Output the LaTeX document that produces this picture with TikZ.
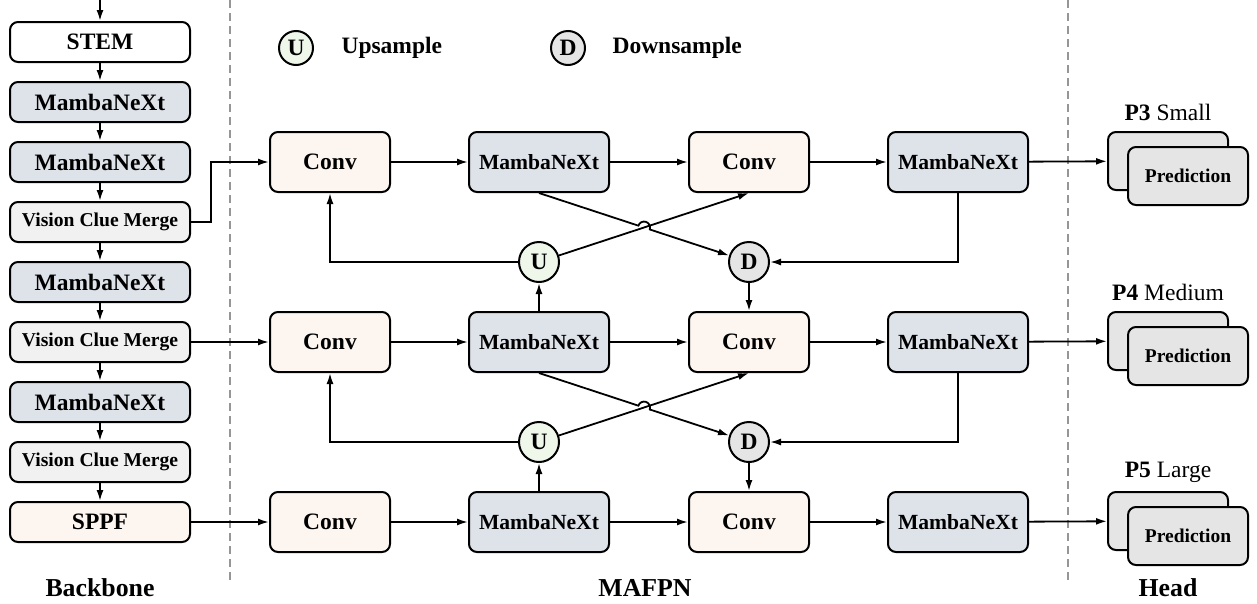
\documentclass[tikz,border=0pt]{standalone}
\usepackage{fontspec}
\setmainfont{Liberation Serif}
\usetikzlibrary{arrows.meta, calc}

\definecolor{mambafill}{RGB}{222,226,233}
\definecolor{convfill}{RGB}{253,245,239}
\definecolor{vcmfill}{RGB}{241,241,241}
\definecolor{predfill}{RGB}{229,229,229}
\definecolor{upfill}{RGB}{239,247,235}
\definecolor{downfill}{RGB}{229,229,229}
\definecolor{sepgray}{RGB}{150,150,150}

\begin{document}
\begin{tikzpicture}[x=1pt, y=-1pt,
  blk/.style={draw, rounded corners=8pt, line width=2pt, inner sep=0pt, font=\bfseries\fontsize{23.5}{28}\selectfont},
  bbone/.style={blk, minimum width=180pt, minimum height=40pt},
  vcm/.style={bbone, fill=vcmfill, font=\bfseries\fontsize{19.6}{23}\selectfont},
  conv/.style={blk, fill=convfill, minimum width=120pt, minimum height=60pt},
  mamba/.style={blk, fill=mambafill, minimum width=140pt, minimum height=60pt, font=\bfseries\fontsize{21.6}{26}\selectfont},
  pred/.style={blk, fill=predfill, minimum width=120pt, minimum height=58pt, font=\bfseries\fontsize{19.5}{23}\selectfont},
  samp/.style={circle, draw, line width=2pt, inner sep=0pt, minimum size=40pt, font=\bfseries\fontsize{23.5}{28}\selectfont},
  arr/.style={-{Latex[length=11pt, width=7pt]}, line width=1.8pt},
  sep/.style={draw=sepgray, line width=1.4pt, dash pattern=on 8pt off 5pt},
  lbl/.style={font=\fontsize{23.5}{28}\selectfont},
  title/.style={font=\bfseries\fontsize{25.8}{30}\selectfont}]
\useasboundingbox (0,0) rectangle (1257,603);

% Backbone
\coordinate (in) at (100,0);
\node[bbone, fill=white] (stem) at (100,42) {STEM};
\node[bbone, fill=mambafill] (bb1) at (100,102) {MambaNeXt};
\node[bbone, fill=mambafill] (bb2) at (100,162) {MambaNeXt};
\node[vcm] (vcm1) at (100,222) {Vision Clue Merge};
\node[bbone, fill=mambafill] (bb3) at (100,282) {MambaNeXt};
\node[vcm] (vcm2) at (100,342) {Vision Clue Merge};
\node[bbone, fill=mambafill] (bb4) at (100,402) {MambaNeXt};
\node[vcm] (vcm3) at (100,462) {Vision Clue Merge};
\node[bbone, fill=convfill] (sppf) at (100,522) {SPPF};
\foreach \a/\b in {in/stem, stem/bb1, bb1/bb2, bb2/vcm1, vcm1/bb3, bb3/vcm2, vcm2/bb4, bb4/vcm3, vcm3/sppf}
  \draw[arr] (\a) -- (\b);

% separators
\draw[sep] (230,0) -- (230,582);
\draw[sep] (1068,0) -- (1068,582);

% legend
\node[samp, minimum size=34pt, fill=upfill] (lgu) at (296,48) {U};
\node[title, font=\bfseries\fontsize{23.5}{28}\selectfont, anchor=west] (lgut) at (338,48) {Upsample};
\node[samp, minimum size=34pt, fill=downfill] (lgd) at (568,48) {D};
\node[title, font=\bfseries\fontsize{23.5}{28}\selectfont, anchor=west] (lgdt) at (609,48) {Downsample};

% MAFPN rows and head
\foreach \r/\y/\p/\s in {a/162/P3/Small, b/342/P4/Medium, c/522/P5/Large}{
  \node[conv] (c1\r) at (330,\y) {Conv};
  \node[mamba] (m2\r) at (539,\y) {MambaNeXt};
  \node[conv] (c3\r) at (749,\y) {Conv};
  \node[mamba] (m4\r) at (958,\y) {MambaNeXt};
  \node[pred] (pb\r) at (1168,\y-1) {};
  \node[pred] (pf\r) at (1188,\y+14) {Prediction};
  \node[lbl] (hl\r) at (1168,\y-50) {\textbf{\p} \s};
  \draw[arr] (c1\r) -- (m2\r);
  \draw[arr] (m2\r) -- (c3\r);
  \draw[arr] (c3\r) -- (m4\r);
  \draw[arr] (m4\r) -- (pb\r);
}
\draw[arr] (vcm1.east) -- ++(20,0) |- (c1a.west);
\draw[arr] (vcm2) -- (c1b);
\draw[arr] (sppf) -- (c1c);

% up / down paths
\node[samp, fill=upfill] (u1) at (539,262) {U};
\node[samp, fill=downfill] (d1) at (749,262) {D};
\node[samp, fill=upfill] (u2) at (539,442) {U};
\node[samp, fill=downfill] (d2) at (749,442) {D};

\draw[arr] (m2b) -- (u1);
\draw[arr] (u1.west) -| (c1a.south);
\draw[arr] (u1) -- (c3a.south);
\coordinate (x1) at (intersection of m2a.south--d1 and u1--c3a.south);
\draw[arr] (m2a.south) -- ($(x1)!6pt!(m2a.south)$) arc[start angle=161.5, end angle=-18.5, radius=6pt] -- (d1);
\draw[arr] (m4a.south) |- (d1.east);
\draw[arr] (d1) -- (c3b);

\draw[arr] (m2c) -- (u2);
\draw[arr] (u2.west) -| (c1b.south);
\draw[arr] (u2) -- (c3b.south);
\coordinate (x2) at (intersection of m2b.south--d2 and u2--c3b.south);
\draw[arr] (m2b.south) -- ($(x2)!6pt!(m2b.south)$) arc[start angle=161.5, end angle=-18.5, radius=6pt] -- (d2);
\draw[arr] (m4b.south) |- (d2.east);
\draw[arr] (d2) -- (c3c);

% section titles
\node[title] (tbb) at (100,588) {Backbone};
\node[title] (tfp) at (645,588) {MAFPN};
\node[title] (thd) at (1168,588) {Head};
\end{tikzpicture}
\end{document}
